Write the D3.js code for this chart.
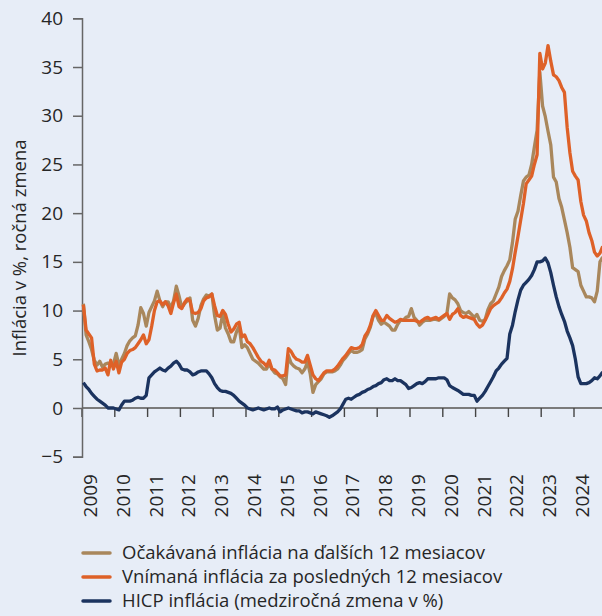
<html>
<head>
<meta charset="utf-8">
<script src="https://d3js.org/d3.v7.min.js"></script>
<style>
  body {margin: 0; background: #e7edf7;}
  text {font-family: "Open Sans", sans-serif; fill: #262626;}
</style>
</head>
<body>
<svg width="602" height="616"></svg>

<script>

// monthly values, Jan 2009 - Nov 2024
var expected = [
 10.7, 7.5, 6.8, 6.0, 4.9, 4.4, 4.8, 4.2, 4.5, 4.6, 4.5, 4.5,
 5.6, 4.4, 5.0, 5.6, 6.4, 6.9, 7.2, 7.4, 8.5, 10.3, 9.7, 8.4,
 9.8, 10.4, 11.0, 12.0, 11.0, 10.4, 10.9, 10.9, 10.3, 11.0, 12.5, 11.5,
 10.3, 10.7, 11.0, 11.3, 9.0, 8.4, 9.2, 10.5, 11.2, 11.6, 11.5, 11.7,
 9.5, 8.0, 8.2, 9.7, 8.2, 7.6, 6.8, 6.8, 7.8, 8.4, 6.2, 6.5,
 6.2, 5.6, 5.0, 4.8, 4.6, 4.3, 4.0, 4.0, 4.5, 4.0, 3.6, 3.5,
 3.2, 3.0, 2.4, 5.4, 4.6, 4.3, 4.1, 4.0, 3.6, 4.0, 4.7, 3.5,
 1.6, 2.4, 2.7, 3.0, 3.5, 3.7, 3.7, 3.7, 3.8, 4.0, 4.4, 4.9,
 5.2, 5.6, 5.9, 5.7, 5.7, 5.8, 6.0, 7.1, 7.6, 8.3, 9.4, 9.7,
 9.0, 8.6, 8.8, 8.6, 8.4, 8.0, 8.0, 8.6, 9.0, 9.0, 9.3, 9.4,
 10.2, 9.3, 9.0, 8.5, 8.8, 9.0, 9.0, 9.0, 9.1, 9.1, 9.0, 9.2,
 9.4, 9.7, 11.7, 11.3, 11.1, 10.7, 10.0, 9.8, 9.7, 9.9, 9.6, 9.3,
 9.6, 9.0, 8.9, 9.1, 10.1, 10.7, 11.0, 11.7, 12.4, 13.5, 14.1, 14.6,
 15.2, 17.0, 19.4, 20.2, 21.8, 23.3, 23.7, 23.9, 25.0, 26.8, 28.5, 34.5,
 31.0, 29.9, 28.4, 27.0, 23.7, 23.2, 21.5, 20.6, 19.3, 18.0, 16.5, 14.4,
 14.2, 14.0, 12.6, 12.0, 11.4, 11.4, 11.3, 10.9, 12.0, 15.0, 15.5
];

var perceived = [
 10.6, 8.0, 7.6, 7.2, 4.5, 3.8, 3.9, 3.9, 4.1, 3.4, 4.9, 4.0,
 4.8, 3.6, 4.7, 5.0, 5.6, 5.9, 6.0, 6.2, 6.6, 7.0, 7.5, 6.6,
 7.0, 8.4, 10.0, 10.9, 11.0, 10.6, 10.9, 10.5, 9.7, 10.8, 11.7, 10.4,
 10.2, 10.8, 11.2, 11.0, 9.8, 9.7, 9.8, 10.2, 11.0, 11.3, 11.4, 11.7,
 10.5, 9.5, 9.4, 10.0, 9.6, 8.6, 7.8, 8.1, 8.6, 8.8, 7.3, 7.5,
 6.8, 6.6, 6.2, 5.7, 5.2, 4.8, 4.6, 4.3, 4.9, 4.0, 3.9, 3.6,
 3.3, 3.3, 3.4, 6.1, 5.8, 5.3, 5.0, 4.9, 4.7, 4.7, 5.4, 4.4,
 3.4, 3.0, 2.8, 3.2, 3.6, 3.8, 3.8, 3.8, 4.0, 4.3, 4.7, 5.1,
 5.4, 5.8, 6.2, 6.1, 6.1, 6.2, 6.5, 7.4, 7.8, 8.5, 9.5, 10.0,
 9.5, 9.0, 9.0, 9.5, 9.2, 9.0, 8.8, 8.9, 9.1, 9.0, 9.0, 9.0,
 9.0, 9.0, 8.9, 8.8, 9.0, 9.2, 9.3, 9.1, 9.2, 9.3, 9.1, 9.3,
 9.5, 9.7, 9.1, 9.6, 9.8, 10.2, 9.5, 9.3, 9.4, 9.3, 9.2, 9.1,
 8.6, 8.3, 8.5, 9.0, 9.6, 10.2, 10.5, 10.7, 10.9, 11.3, 11.8, 12.2,
 13.0, 14.3, 16.0, 17.6, 19.3, 21.0, 23.0, 23.4, 23.8, 25.0, 26.0, 36.4,
 34.8, 35.4, 37.2, 35.6, 34.2, 34.0, 33.6, 32.9, 32.4, 28.8, 26.2, 24.3,
 23.8, 23.4, 21.2, 19.8, 19.2, 18.0, 17.2, 16.0, 15.6, 15.9, 16.6
];

var hicp = [
 2.6, 2.2, 1.9, 1.5, 1.2, 0.9, 0.7, 0.5, 0.3, 0.0, 0.0, 0.0,
 -0.1, -0.2, 0.3, 0.7, 0.7, 0.7, 0.8, 1.0, 1.1, 1.0, 1.0, 1.3,
 3.1, 3.4, 3.7, 3.9, 4.1, 3.9, 3.8, 4.1, 4.3, 4.6, 4.8, 4.5,
 4.0, 3.9, 3.9, 3.7, 3.4, 3.5, 3.7, 3.8, 3.8, 3.8, 3.5, 3.1,
 2.5, 2.1, 1.8, 1.7, 1.7, 1.6, 1.5, 1.3, 1.0, 0.7, 0.5, 0.3,
 0.0, -0.1, -0.2, -0.1, 0.0, -0.1, -0.2, -0.1, 0.0, -0.1, -0.1, 0.1,
 -0.4, -0.2, -0.1, 0.0, -0.1, -0.2, -0.3, -0.3, -0.5, -0.4, -0.4, -0.5,
 -0.6, -0.4, -0.5, -0.6, -0.7, -0.8, -0.95, -0.8, -0.6, -0.4, -0.1, 0.4,
 0.9, 1.0, 0.9, 1.1, 1.3, 1.4, 1.6, 1.7, 1.9, 2.0, 2.2, 2.3,
 2.5, 2.6, 2.9, 3.0, 2.8, 2.8, 3.0, 2.8, 2.8, 2.6, 2.4, 2.0,
 2.1, 2.3, 2.5, 2.6, 2.5, 2.7, 3.0, 3.0, 3.0, 3.0, 3.1, 3.1,
 3.1, 2.9, 2.3, 2.1, 1.95, 1.8, 1.6, 1.4, 1.4, 1.4, 1.3, 1.3,
 0.7, 1.0, 1.3, 1.7, 2.2, 2.7, 3.2, 3.8, 4.1, 4.5, 4.8, 5.1,
 7.6, 8.5, 9.9, 11.1, 12.1, 12.6, 12.9, 13.2, 13.6, 14.2, 15.0, 15.0,
 15.1, 15.4, 14.9, 13.9, 12.6, 11.4, 10.4, 9.6, 8.9, 7.9, 7.2, 6.4,
 5.0, 3.2, 2.5, 2.5, 2.5, 2.6, 2.8, 3.1, 3.0, 3.3, 3.7
];

var years = [2009, 2010, 2011, 2012, 2013, 2014, 2015, 2016, 2017, 2018, 2019, 2020, 2021, 2022, 2023, 2024];
var yTicks = [-5, 0, 5, 10, 15, 20, 25, 30, 35, 40];
var seriesNames = ["Očakávaná inflácia na ďalších 12 mesiacov", "Vnímaná inflácia za posledných 12 mesiacov", "HICP inflácia (medziročná zmena v %)"];
var yTitle = "Inflácia v %, ročná zmena";

var colors = ["#a9875c", "#de6128", "#1b335f"];

var svg = d3.select("svg");

svg.append("rect").attr("width", 602).attr("height", 616).attr("fill", "#e7edf7");

//scales
var x = d3.scaleLinear()
.domain([2009, 2025])
.range([82, 606.8]);

var y = d3.scaleLinear()
.domain([-5, 40])
.range([456.7, 18.3]);

//month i sits in the middle of its month
function monthX(d, i) {return x(2009 + (i + 0.5) / 12)}

//zero line
svg.append("line")
.attr("x1", 82).attr("x2", 602)
.attr("y1", y(0)).attr("y2", y(0))
.attr("stroke", "#7b7b7b")
.attr("stroke-width", 2);

//x ticks hang under zero line
svg.append("g")
.selectAll("line")
.data(years)
.enter()
.append("line")
.attr("x1", function(d) {return x(d)})
.attr("x2", function(d) {return x(d)})
.attr("y1", y(0))
.attr("y2", y(0) + 9)
.attr("stroke", "#444")
.attr("stroke-width", 1.4);

svg.append("g")
.selectAll("text")
.data(years)
.enter()
.append("text")
.attr("transform", function(d) {return "translate(" + (x(d) + 15) + "," + 474 + ") rotate(-90)"})
.attr("text-anchor", "end")
.style("font-size", "19px")
.text(function(d) {return d});

//y axis
var yAxis = svg.append("g")
.attr("transform", "translate(82,0)")
.call(d3.axisLeft(y).tickValues(yTicks).tickSize(9).tickPadding(10).tickFormat(d3.format("d")));

yAxis.select(".domain").attr("stroke", "#666").attr("stroke-width", 1.5);
yAxis.selectAll(".tick line").attr("stroke", "#666").attr("stroke-width", 1.5);
yAxis.selectAll(".tick text")
.style("font-size", "19px")
.style("font-family", "'Open Sans', sans-serif")
.attr("fill", "#262626");

svg.append("text")
.attr("transform", "translate(26,248) rotate(-90)")
.attr("text-anchor", "middle")
.style("font-size", "18.5px")
.text(yTitle);

//lines
var line = d3.line()
.x(monthX)
.y(function(d) {return y(d)});

[expected, perceived, hicp].forEach(function(s, k) {
    svg.append("path")
    .datum(s)
    .attr("d", line)
    .attr("fill", "none")
    .attr("stroke", colors[k])
    .attr("stroke-width", 3.3)
    .attr("stroke-linejoin", "round");
});

//legend
var legend = svg.append("g")
.selectAll("g")
.data(seriesNames)
.enter()
.append("g")
.attr("transform", function(d, i) {return "translate(83," + (553 + i * 24) + ")"});

legend.append("line")
.attr("x1", 0).attr("x2", 27)
.attr("stroke", function(d, i) {return colors[i]})
.attr("stroke-width", 3.5)
.attr("stroke-linecap", "round");

legend.append("text")
.attr("x", 39)
.attr("dy", "0.35em")
.style("font-size", "18.5px")
.text(function(d) {return d});

</script>
</body>
</html>
